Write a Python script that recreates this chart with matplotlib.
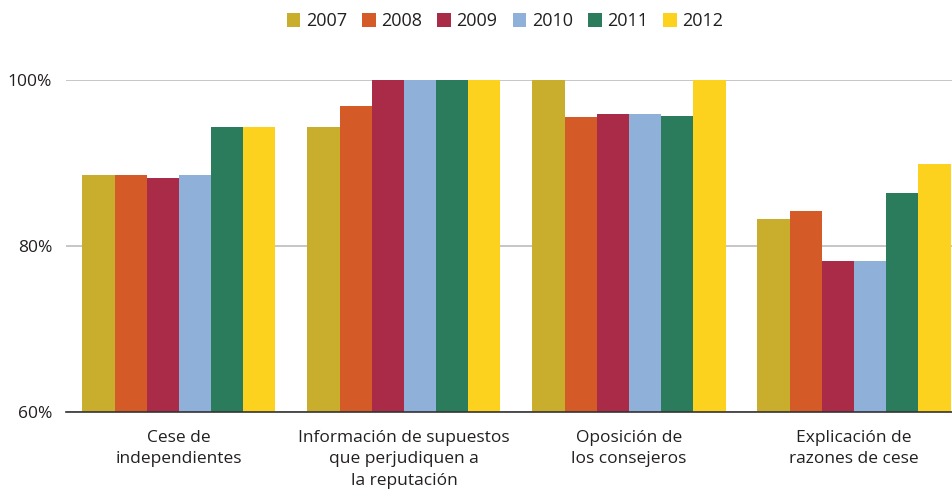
import matplotlib
matplotlib.use("Agg")
import matplotlib.pyplot as plt
import numpy as np

categories = ["Cese de\nindependientes",
              "Información de supuestos\nque perjudiquen a\nla reputación",
              "Oposición de\nlos consejeros",
              "Explicación de\nrazones de cese"]
years = ["2007", "2008", "2009", "2010", "2011", "2012"]
values = {
    "2007": [88.6, 94.3, 100.0, 83.2],
    "2008": [88.6, 96.9, 95.6, 84.2],
    "2009": [88.2, 100.0, 95.9, 78.2],
    "2010": [88.6, 100.0, 95.9, 78.2],
    "2011": [94.3, 100.0, 95.7, 86.4],
    "2012": [94.3, 100.0, 100.0, 89.9],
}
colors = ["#C9AE2E", "#D45B27", "#A92B47", "#8FB0D8", "#2A7C5C", "#FCD21F"]
yticks = [60, 80, 100]
ytick_labels = ["60%", "80%", "100%"]

plt.rcParams['font.family'] = ['Open Sans', 'DejaVu Sans']
txt = "#231f20"

fig = plt.figure(figsize=(9.53, 4.98), dpi=100)
ax = fig.add_axes([66/953, 1-412/498, 1-66/953, (412-80)/498])

x = np.arange(len(categories))
bw = 0.143
for i, (yr, c) in enumerate(zip(years, colors)):
    ax.bar(x + (i - 2.5) * bw, values[yr], width=bw, color=c, label=yr,
           zorder=3, linewidth=0)

ax.set_ylim(60, 100)
ax.set_xlim(-0.502, 3.44)
ax.set_yticks(yticks)
ax.set_yticklabels(ytick_labels, fontsize=12.5, color=txt)
ax.tick_params(axis='y', length=0, pad=10)
ax.set_xticks(x)
ax.set_xticklabels(categories, fontsize=12.5, color=txt, linespacing=1.45)
ax.tick_params(axis='x', length=0, pad=13)
ax.yaxis.grid(True, color="#c4c0c0", linewidth=1.3, zorder=0)
for s in ["top", "right", "left"]:
    ax.spines[s].set_visible(False)
ax.spines["bottom"].set_color("#333333")
ax.spines["bottom"].set_linewidth(1.2)
ax.spines["bottom"].set_zorder(4)

fig.legend(loc="upper center", bbox_to_anchor=(0.53, 1.008), ncol=6, frameon=False,
           fontsize=13, handlelength=0.75, handleheight=0.75, columnspacing=0.85,
           handletextpad=0.3, labelcolor=txt)

fig.savefig("out.png", dpi=100)
